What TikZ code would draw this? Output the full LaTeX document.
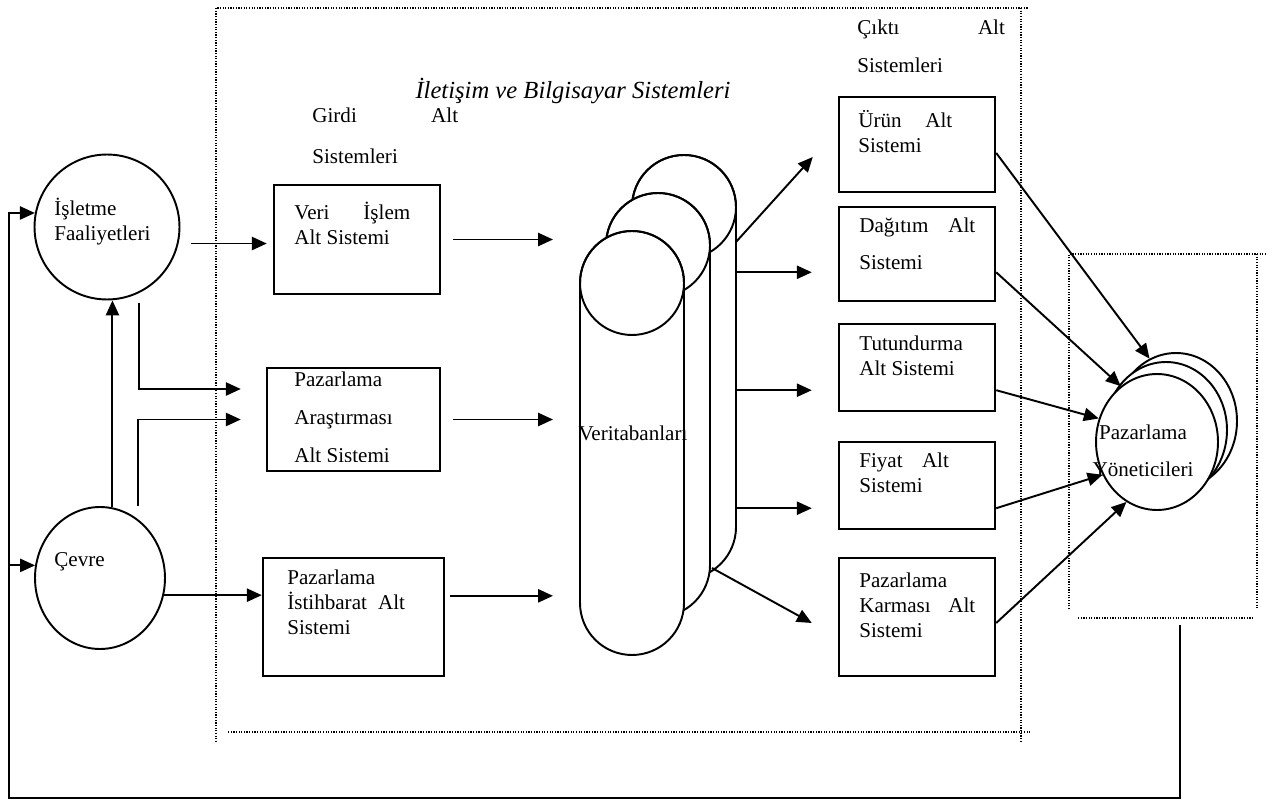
\documentclass[tikz,border=0pt]{standalone}
\usepackage{fontspec}
\setmainfont{Liberation Serif}
\usetikzlibrary{arrows.meta,shapes.geometric}
\tikzset{
  kutu/.style={draw, line width=1.4pt, inner sep=0pt},
  daire/.style={draw, ellipse, line width=1.1pt, fill=white, inner sep=0pt},
  ok/.style={-{Triangle[length=8.5pt,width=7.5pt]}, line width=1.1pt},
  cizgi/.style={line width=1.1pt},
  noktali/.style={dash pattern=on 0.7pt off 0.8pt, line width=0.7pt},
  yazi/.style={align=left, inner sep=0pt, anchor=north west, font=\fontsize{12}{14}\selectfont, execute at begin node=\strut},
}
\begin{document}
\begin{tikzpicture}[x=0.02cm, y=-0.02cm]
\useasboundingbox (0,0) rectangle (1274,800);
% cerceveler
\draw[noktali] (216,742) -- (216,8) -- (1028,8);
\draw[noktali] (1021,8) -- (1021,742);
\draw[noktali] (228,732) -- (1030,732);
\draw[noktali] (1069,609) -- (1069,254) -- (1267,254);
\draw[noktali] (1257,254) -- (1257,609);
\draw[noktali] (1078,618) -- (1252,618);
% veritabanlari
\foreach \x/\t in {632/207, 606/245, 580/283} {
  \filldraw[cizgi, fill=white] (\x,\t) -- (\x,\t+320) arc (180:0:52) -- (\x+104,\t) arc (0:-180:52) -- cycle;
  \draw[cizgi] (\x+52,\t) circle (52);
}
\node[font=\fontsize{12}{14}\selectfont, inner sep=0pt] (dbyazi) at (633,433) {Veritabanları};
\coordinate (dbsol) at (553,0);
\coordinate (dbsag) at (736,0);
\coordinate (dbust) at (736,242);
\coordinate (dbalt) at (712,568);
% sol taraf
\node[daire, minimum width=2.9cm, minimum height=2.9cm] (isl) at (107,227) {};
\node[daire, minimum width=2.6cm, minimum height=2.84cm] (cev) at (100,578) {};
\node[yazi] (islyazi) at (54,198) {İşletme\\Faaliyetleri};
\node[yazi] (cevyazi) at (54,549) {Çevre};
% girdi alt sistemleri
\node[kutu, minimum width=3.32cm, minimum height=2.18cm] (veri) at (357,239.5) {};
\node[kutu, minimum width=3.46cm, minimum height=2.06cm] (arast) at (353.5,419.5) {};
\node[kutu, minimum width=3.62cm, minimum height=2.36cm] (istih) at (353.5,617) {};
\node[yazi] (girdi) at (312,108) {\makebox[83pt][s]{Girdi Alt}\\[8.8pt]Sistemleri};
\node[yazi] (veriyazi) at (294,202) {\makebox[66pt][s]{Veri İşlem}\\Alt Sistemi};
\begin{scope}
\clip (arast.north west) rectangle ([yshift=0.22cm]arast.south east);
\node[yazi] (arastyazi) at (294,372) {Pazarlama\\[7.5pt]Araştırması\\[7.5pt]Alt Sistemi};
\end{scope}
\node[yazi] (istihyazi) at (287,570) {Pazarlama\\\makebox[67pt][s]{İstihbarat Alt}\\Sistemi};
\node[yazi, anchor=north, font=\fontsize{14}{16}\selectfont\itshape] (iletisim) at (573,78) {İletişim ve Bilgisayar Sistemleri};
% cikti alt sistemleri
\node[kutu, minimum width=3.12cm, minimum height=1.9cm] (urun) at (917,144.5) {};
\node[kutu, minimum width=3.12cm, minimum height=1.88cm] (dag) at (917,254) {};
\node[kutu, minimum width=3.12cm, minimum height=1.74cm] (tut) at (917,367.5) {};
\node[kutu, minimum width=3.12cm, minimum height=1.74cm] (fiy) at (917,485.5) {};
\node[kutu, minimum width=3.12cm, minimum height=2.36cm] (karma) at (917,617) {};
\node[yazi] (cikti) at (857,20) {\makebox[84pt][s]{Çıktı Alt}\\[7.6pt]Sistemleri};
\node[yazi] (urunyazi) at (858,110) {\makebox[53.5pt][s]{Ürün Alt}\\Sistemi};
\node[yazi] (dagyazi) at (859,218) {\makebox[66pt][s]{Dağıtım Alt}\\[7pt]Sistemi};
\node[yazi] (tutyazi) at (859,336) {Tutundurma\\Alt Sistemi};
\node[yazi] (fiyyazi) at (859,453) {\makebox[51pt][s]{Fiyat Alt}\\Sistemi};
\node[yazi] (karmayazi) at (859,573) {Pazarlama\\\makebox[66pt][s]{Karması Alt}\\Sistemi};
% pazarlama yoneticileri
\node[daire, minimum width=2.44cm, minimum height=2.72cm] (yon3) at (1176,421) {};
\node[daire, minimum width=2.44cm, minimum height=2.72cm] (yon2) at (1166,430) {};
\node[daire, minimum width=2.44cm, minimum height=2.72cm] (yon) at (1157,442) {};
\node[yazi, align=center, anchor=north] (yonyazi) at (1143,425) {Pazarlama\\[7pt]Yöneticileri};
% oklar
\coordinate (geri) at (1180,625);
\coordinate (solalt) at (9,798);
\draw[ok] (geri) |- (solalt) |- (isl.169);
\draw[ok] (solalt |- cev.169) -- (cev.169);
\draw[ok] (cev.80) -- (cev.80 |- isl.south);
\draw[ok, shorten <=0.25cm, shorten >=0.12cm] (isl.-13) -- (isl.-13 -| veri.west);
\draw[ok, shorten <=0.2cm] (isl.-64.7) |- ([xshift=-0.5cm,yshift=0.61cm]arast.west);
\draw[ok] ([xshift=0.76cm]cev.north) |- ([xshift=-0.5cm]arast.west);
\draw[ok] (cev.-15) -- (cev.-15 -| istih.west);
\draw[ok, shorten <=0.24cm] (veri.east) -- (veri.east -| dbsol);
\draw[ok, shorten <=0.24cm] (arast.east) -- (arast.east -| dbsol);
\draw[ok, shorten <=0.1cm] (istih.13.7) -- (istih.13.7 -| dbsol);
\draw[ok] (dbust) -- ([xshift=-0.5cm,yshift=-0.25cm]urun.west);
\draw[ok, shorten >=0.52cm] (dbsag |- dag.193.7) -- (dag.193.7);
\draw[ok, shorten >=0.52cm] (dbsag |- tut.196.1) -- (tut.196.1);
\draw[ok, shorten >=0.52cm] (dbsag |- fiy.196.1) -- (fiy.196.1);
\draw[ok] (dbalt) -- ([xshift=-0.52cm,yshift=-0.12cm]karma.west);
\draw[ok] ([yshift=-0.17cm]urun.east) -- (yon3.113);
\draw[ok] (dag.-13.7) -- (yon.123);
\draw[ok] (tut.-16.1) -- (yon.158);
\draw[ok] (fiy.-16.1) -- (yon.211);
\draw[ok] ([yshift=-0.12cm]karma.east) -- (yon.243);
\end{tikzpicture}
\end{document}
